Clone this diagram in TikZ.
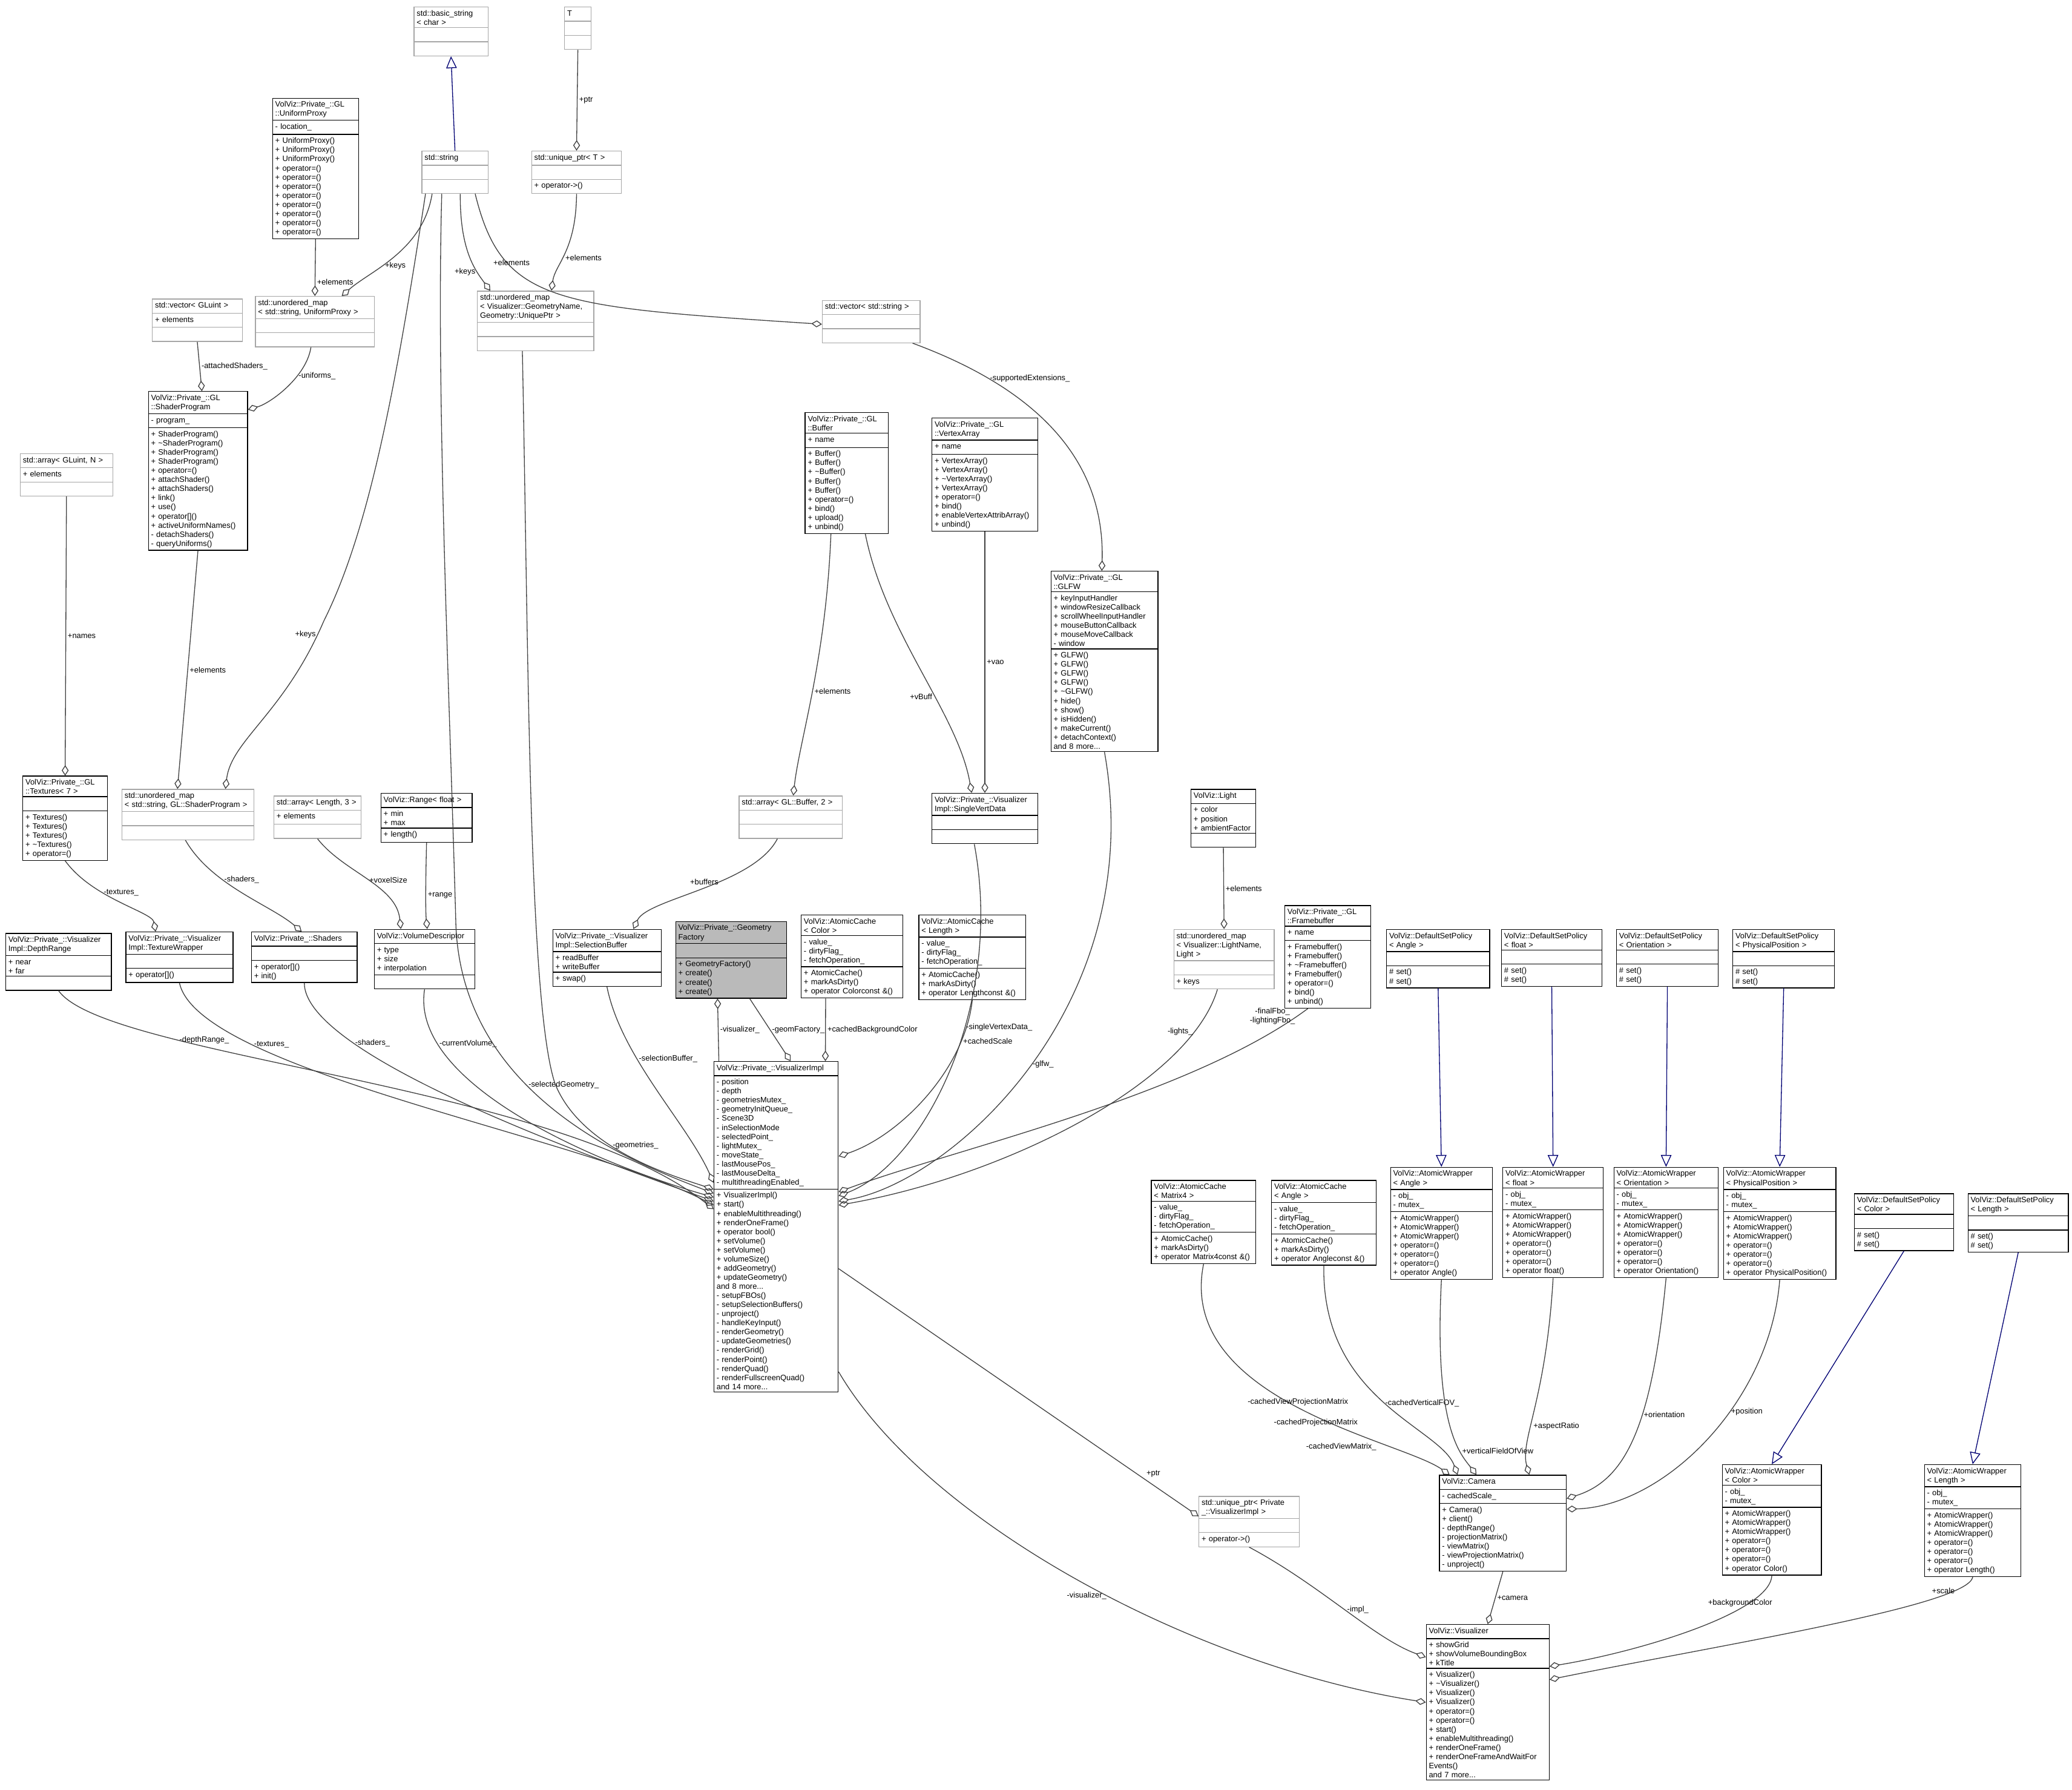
\documentclass[tikz,border=0pt]{standalone}
\usepackage{fontspec}
\newfontfamily\dfont{Liberation Sans}
\usetikzlibrary{shapes.multipart,arrows.meta,calc}
\tikzset{
 cb/.style={rectangle split, rectangle split parts=3, draw=black, anchor=north west,
  font=\dfont\fontsize{2.95}{3.45}\selectfont, rectangle split part align={center,left,left},
  inner xsep=1pt, inner ysep=0.8pt, line width=0.3pt},
 gb/.style={cb, draw=black!35},
 fb/.style={cb, fill=black!27},
 comp/.style={draw=black!75, line width=0.3pt, -{Diamond[open,length=4pt,width=2.6pt]}},
 inh/.style={draw=blue!45!black, line width=0.3pt, -{Triangle[open,length=4.5pt,width=4pt]}},
 lbl/.style={font=\dfont\fontsize{2.95}{3.45}\selectfont, inner sep=0.6pt, align=center, text=black}
}
\newcommand\cls[8]{\node[#1,text width=#5pt] (#2) at (#3,#4) {\strut#6\nodepart{two}\strut#7\nodepart{three}\strut#8};}
\begin{document}
\begin{tikzpicture}[x=0.5pt,y=-0.5pt]
\useasboundingbox (0,0) rectangle (1568,1354.5);
\fill[white] (0,0) rectangle (1568,1354.5);
% boxes
\cls{gb}{bs}{313}{5}{26}{std::basic\_string\\< char >}{}{}
\cls{gb}{T}{427}{5}{8}{T}{}{}
\cls{cb}{up}{206}{74}{30.5}{VolViz::Private\_::GL\\::UniformProxy}{- location\_}{+ UniformProxy()\\+ UniformProxy()\\+ UniformProxy()\\+ operator=()\\+ operator=()\\+ operator=()\\+ operator=()\\+ operator=()\\+ operator=()\\+ operator=()\\+ operator=()}
\cls{gb}{str}{319}{114}{23}{std::string}{}{}
\cls{gb}{uT}{402}{114}{32}{std::unique\_ptr< T >}{}{+ operator->()}
\cls{gb}{vg}{115}{226}{32}{std::vector< GLuint >}{+ elements}{}
\cls{gb}{ump}{193}{224}{43}{std::unordered\_map\\< std::string, UniformProxy >}{}{}
\cls{gb}{umg}{361}{220}{42}{std::unordered\_map\\< Visualizer::GeometryName,\\ Geometry::UniquePtr >}{}{}
\cls{gb}{vs}{622}{227}{35}{std::vector< std::string >}{}{}
\cls{cb}{sp}{112}{296}{35.5}{VolViz::Private\_::GL\\::ShaderProgram}{- program\_}{+ ShaderProgram()\\+ \textasciitilde ShaderProgram()\\+ ShaderProgram()\\+ ShaderProgram()\\+ operator=()\\+ attachShader()\\+ attachShaders()\\+ link()\\+ use()\\+ operator[]()\\+ activeUniformNames()\\- detachShaders()\\- queryUniforms()}
\cls{gb}{arr}{15}{343}{33}{std::array< GLuint, N >}{+ elements}{}
\cls{cb}{buf}{609}{312}{29.5}{VolViz::Private\_::GL\\::Buffer}{+ name}{+ Buffer()\\+ Buffer()\\+ \textasciitilde Buffer()\\+ Buffer()\\+ Buffer()\\+ operator=()\\+ bind()\\+ upload()\\+ unbind()}
\cls{cb}{va}{705}{316}{38}{VolViz::Private\_::GL\\::VertexArray}{+ name}{+ VertexArray()\\+ VertexArray()\\+ \textasciitilde VertexArray()\\+ VertexArray()\\+ operator=()\\+ bind()\\+ enableVertexAttribArray()\\+ unbind()}
\cls{cb}{glfw}{795}{432}{38.5}{VolViz::Private\_::GL\\::GLFW}{+ keyInputHandler\\+ windowResizeCallback\\+ scrollWheelInputHandler\\+ mouseButtonCallback\\+ mouseMoveCallback\\- window}{+ GLFW()\\+ GLFW()\\+ GLFW()\\+ GLFW()\\+ \textasciitilde GLFW()\\+ hide()\\+ show()\\+ isHidden()\\+ makeCurrent()\\+ detachContext()\\and 8 more...}
\cls{cb}{tex}{17}{587}{30}{VolViz::Private\_::GL\\::Textures< 7 >}{}{+ Textures()\\+ Textures()\\+ Textures()\\+ \textasciitilde Textures()\\+ operator=()}
\cls{gb}{umsp}{92}{597}{48}{std::unordered\_map\\< std::string, GL::ShaderProgram >}{}{}
\cls{gb}{arrL}{207}{602}{31}{std::array< Length, 3 >}{+ elements}{}
\cls{cb}{rng}{288}{600}{32.5}{VolViz::Range< float >}{+ min\\+ max}{+ length()}
\cls{gb}{arrb}{559}{602}{37}{std::array< GL::Buffer, 2 >}{}{}
\cls{cb}{svd}{705}{600}{38}{VolViz::Private\_::Visualizer\\Impl::SingleVertData}{}{}
\cls{cb}{light}{901}{597}{22.5}{VolViz::Light}{+ color\\+ position\\+ ambientFactor}{}
\cls{cb}{dr}{4}{706}{38}{VolViz::Private\_::Visualizer\\Impl::DepthRange}{+ near\\+ far}{}
\cls{cb}{tw}{95}{705}{38.5}{VolViz::Private\_::Visualizer\\Impl::TextureWrapper}{}{+ operator[]()}
\cls{cb}{sh}{190}{705}{38}{VolViz::Private\_::Shaders}{}{+ operator[]()\\+ init()}
\cls{cb}{vd}{283}{703}{36}{VolViz::VolumeDescriptor}{+ type\\+ size\\+ interpolation}{}
\cls{cb}{sb}{418}{703}{39}{VolViz::Private\_::Visualizer\\Impl::SelectionBuffer}{+ readBuffer\\+ writeBuffer}{+ swap()}
\cls{fb}{gf}{511}{697}{40}{VolViz::Private\_::Geometry\\Factory}{}{+ GeometryFactory()\\+ create()\\+ create()\\+ create()}
\cls{cb}{acc}{606}{692}{36.5}{VolViz::AtomicCache\\< Color >}{- value\_\\- dirtyFlag\_\\- fetchOperation\_}{+ AtomicCache()\\+ markAsDirty()\\+ operator Colorconst \&()}
\cls{cb}{acl}{695}{692}{38.5}{VolViz::AtomicCache\\< Length >}{- value\_\\- dirtyFlag\_\\- fetchOperation\_}{+ AtomicCache()\\+ markAsDirty()\\+ operator Lengthconst \&()}
\cls{gb}{uml}{888}{703}{36}{std::unordered\_map\\< Visualizer::LightName,\\ Light >}{}{+ keys}
\cls{cb}{fbo}{972}{685}{30.5}{VolViz::Private\_::GL\\::Framebuffer}{+ name}{+ Framebuffer()\\+ Framebuffer()\\+ \textasciitilde Framebuffer()\\+ Framebuffer()\\+ operator=()\\+ bind()\\+ unbind()}
\cls{cb}{dA}{1049}{703}{37}{VolViz::DefaultSetPolicy\\< Angle >}{}{\# set()\\\# set()}
\cls{cb}{dF}{1136}{703}{36}{VolViz::DefaultSetPolicy\\< float >}{}{\# set()\\\# set()}
\cls{cb}{dO}{1223}{703}{36.5}{VolViz::DefaultSetPolicy\\< Orientation >}{}{\# set()\\\# set()}
\cls{cb}{dP}{1311}{703}{36.5}{VolViz::DefaultSetPolicy\\< PhysicalPosition >}{}{\# set()\\\# set()}
\cls{cb}{vi}{540}{803}{45}{VolViz::Private\_::VisualizerImpl}{- position\\- depth\\- geometriesMutex\_\\- geometryInitQueue\_\\- Scene3D\\- inSelectionMode\\- selectedPoint\_\\- lightMutex\_\\- moveState\_\\- lastMousePos\_\\- lastMouseDelta\_\\- multithreadingEnabled\_}{+ VisualizerImpl()\\+ start()\\+ enableMultithreading()\\+ renderOneFrame()\\+ operator bool()\\+ setVolume()\\+ setVolume()\\+ volumeSize()\\+ addGeometry()\\+ updateGeometry()\\and 8 more...\\- setupFBOs()\\- setupSelectionBuffers()\\- unproject()\\- handleKeyInput()\\- renderGeometry()\\- updateGeometries()\\- renderGrid()\\- renderPoint()\\- renderQuad()\\- renderFullscreenQuad()\\and 14 more...}
\cls{cb}{acm}{871}{893}{37.5}{VolViz::AtomicCache\\< Matrix4 >}{- value\_\\- dirtyFlag\_\\- fetchOperation\_}{+ AtomicCache()\\+ markAsDirty()\\+ operator Matrix4const \&()}
\cls{cb}{aca}{962}{893}{37.5}{VolViz::AtomicCache\\< Angle >}{- value\_\\- dirtyFlag\_\\- fetchOperation\_}{+ AtomicCache()\\+ markAsDirty()\\+ operator Angleconst \&()}
\cls{cb}{wA}{1052}{883}{36.5}{VolViz::AtomicWrapper\\< Angle >}{- obj\_\\- mutex\_}{+ AtomicWrapper()\\+ AtomicWrapper()\\+ AtomicWrapper()\\+ operator=()\\+ operator=()\\+ operator=()\\+ operator Angle()}
\cls{cb}{wF}{1137}{883}{36}{VolViz::AtomicWrapper\\< float >}{- obj\_\\- mutex\_}{+ AtomicWrapper()\\+ AtomicWrapper()\\+ AtomicWrapper()\\+ operator=()\\+ operator=()\\+ operator=()\\+ operator float()}
\cls{cb}{wO}{1221}{883}{37.5}{VolViz::AtomicWrapper\\< Orientation >}{- obj\_\\- mutex\_}{+ AtomicWrapper()\\+ AtomicWrapper()\\+ AtomicWrapper()\\+ operator=()\\+ operator=()\\+ operator=()\\+ operator Orientation()}
\cls{cb}{wP}{1304}{883}{40.5}{VolViz::AtomicWrapper\\< PhysicalPosition >}{- obj\_\\- mutex\_}{+ AtomicWrapper()\\+ AtomicWrapper()\\+ AtomicWrapper()\\+ operator=()\\+ operator=()\\+ operator=()\\+ operator PhysicalPosition()}
\cls{cb}{dC}{1403}{903}{35.5}{VolViz::DefaultSetPolicy\\< Color >}{}{\# set()\\\# set()}
\cls{cb}{dL}{1489}{903}{36}{VolViz::DefaultSetPolicy\\< Length >}{}{\# set()\\\# set()}
\cls{cb}{cam}{1089}{1116}{46}{VolViz::Camera}{- cachedScale\_}{+ Camera()\\+ client()\\- depthRange()\\- projectionMatrix()\\- viewMatrix()\\- viewProjectionMatrix()\\- unproject()}
\cls{gb}{uVI}{907}{1132}{36}{std::unique\_ptr< Private\\\_::VisualizerImpl >}{}{+ operator->()}
\cls{cb}{wC}{1303}{1108}{35.5}{VolViz::AtomicWrapper\\< Color >}{- obj\_\\- mutex\_}{+ AtomicWrapper()\\+ AtomicWrapper()\\+ AtomicWrapper()\\+ operator=()\\+ operator=()\\+ operator=()\\+ operator Color()}
\cls{cb}{wL}{1456}{1108}{34.5}{VolViz::AtomicWrapper\\< Length >}{- obj\_\\- mutex\_}{+ AtomicWrapper()\\+ AtomicWrapper()\\+ AtomicWrapper()\\+ operator=()\\+ operator=()\\+ operator=()\\+ operator Length()}
\cls{cb}{vis}{1079}{1229}{44.5}{VolViz::Visualizer}{+ showGrid\\+ showVolumeBoundingBox\\+ kTitle}{+ Visualizer()\\+ \textasciitilde Visualizer()\\+ Visualizer()\\+ Visualizer()\\+ operator=()\\+ operator=()\\+ start()\\+ enableMultithreading()\\+ renderOneFrame()\\+ renderOneFrameAndWaitFor\\Events()\\and 7 more...}
% inheritance
\draw[inh] (str.north) -- (bs.south);
\foreach \a/\b in {dA/wA,dF/wF,dO/wO,dP/wP,dC/wC,dL/wL}{\draw[inh] (\a.south) -- (\b.north);}
% compositions
\draw[comp] (T.south) -- node[lbl,right]{+ptr} (uT.north);
\draw[comp] (up.south) -- node[lbl,right,pos=0.75]{+elements} (ump.north);
\draw[comp] ($(str.south west)+(8,0)$) .. controls (320,190) and (280,205) .. ($(ump.north east)+(-25,0)$) node[lbl,pos=0.6,right]{+keys};
\draw[comp] ($(str.south)+(4,0)$) .. controls (348,190) and (360,205) .. ($(umg.north west)+(10,0)$) node[lbl,pos=0.7,left]{+keys};
\draw[comp] ($(uT.south)+(0,0)$) .. controls (436,190) and (420,200) .. ($(umg.north)+(12,0)$) node[lbl,pos=0.55,right]{+elements};
\draw[comp] ($(str.south east)+(-10,0)$) .. controls (380,230) and (420,232) .. ($(vs.west)+(0,2)$) node[lbl,pos=0.3,above]{+elements};
\draw[comp] (vg.south) -- node[lbl,right]{-attachedShaders\_} ($(sp.north)+(3,0)$);
\draw[comp] ($(ump.south)+(-3,0)$) .. controls (232,285) and (205,305) .. ($(sp.north east)+(0,14)$) node[lbl,pos=0.35,right]{-uniforms\_};
\draw[comp] ($(str.south west)+(3,0)$) .. controls (300,290) and (280,400) .. (245,470) .. controls (215,540) and (175,560) .. ($(umsp.north east)+(-22,0)$) node[lbl,pos=0.05,left]{+keys};
\draw[comp] (sp.south) -- node[lbl,right]{+elements} ($(umsp.north)+(-8,0)$);
\draw[comp] (arr.south) -- node[lbl,right]{+names} (tex.north);
\draw[comp] ($(vs.south east)+(-6,0)$) .. controls (800,300) and (836,360) .. ($(glfw.north)+(-2,0)$) node[lbl,pos=0.2,right]{-supportedExtensions\_};
\draw[comp] ($(buf.south)+(-12,0)$) .. controls (625,500) and (605,560) .. ($(arrb.north)+(2,0)$) node[lbl,pos=0.5,right]{+elements};
\draw[comp] ($(buf.south)+(14,0)$) .. controls (670,480) and (725,540) .. ($(svd.north)+(-10,0)$) node[lbl,pos=0.6,left]{+vBuff};
\draw[comp] (va.south) -- node[lbl,right]{+vao} (svd.north);
\draw[comp] (tex.south) .. controls (70,680) and (115,690) .. ($(tw.north)+(-18,0)$) node[lbl,pos=0.35,right]{-textures\_};
\draw[comp] ($(umsp.south)+(-2,0)$) .. controls (160,670) and (205,685) .. ($(sh.north)+(-2,0)$) node[lbl,pos=0.35,right]{-shaders\_};
\draw[comp] (arrL.south) .. controls (260,660) and (300,670) .. ($(vd.north)+(-18,0)$) node[lbl,pos=0.5,right]{+voxelSize};
\draw[comp] (rng.south) .. controls (322,670) and (322,690) .. ($(vd.north)+(2,0)$) node[lbl,pos=0.5,right]{+range};
\draw[comp] ($(arrb.south)+(-10,0)$) .. controls (570,670) and (490,680) .. ($(sb.north)+(20,0)$) node[lbl,pos=0.4,left]{+buffers};
\draw[comp] (light.south) -- node[lbl,right]{+elements} (uml.north);
% into VisualizerImpl
\draw[comp] (dr.south) .. controls (80,800) and (420,820) .. ($(vi.north west)+(0,112)$) node[lbl,pos=0.28,right]{-depthRange\_};
\draw[comp] (tw.south) .. controls (150,810) and (440,860) .. ($(vi.north west)+(0,109)$) node[lbl,pos=0.25,right]{-textures\_};
\draw[comp] (sh.south) .. controls (230,800) and (460,880) .. ($(vi.north west)+(0,106)$) node[lbl,pos=0.25,right]{-shaders\_};
\draw[comp] (vd.south) .. controls (310,820) and (450,880) .. ($(vi.north west)+(0,103)$) node[lbl,pos=0.2,right]{-currentVolume\_};
\draw[comp] ($(str.south)+(-10,0)$) .. controls (330,300) and (340,520) .. (345,700) .. controls (350,830) and (480,880) .. ($(vi.north west)+(0,100)$) node[lbl,pos=0.4,right]{-selectedGeometry\_};
\draw[comp] ($(umg.south)+(-10,0)$) .. controls (400,500) and (400,760) .. (420,820) .. controls (440,870) and (510,890) .. ($(vi.north west)+(0,97)$) node[lbl,pos=0.4,right]{-geometries\_};
\draw[comp] (sb.south) .. controls (470,800) and (520,850) .. ($(vi.north west)+(0,92)$) node[lbl,pos=0.35,right]{-selectionBuffer\_};
\draw[comp] ($(gf.south)+(14,0)$) -- node[lbl,right]{-geomFactory\_} ($(vi.north)+(11,0)$);
\draw[comp] ($(vi.north west)+(4,0)$) -- node[lbl,right]{-visualizer\_} ($(gf.south west)+(32,0)$);
\draw[comp] ($(acc.south)+(-20,0)$) -- node[lbl,right]{+cachedBackgroundColor} ($(vi.north east)+(-10,0)$);
\draw[comp] (acl.south) .. controls (730,810) and (680,860) .. ($(vi.north east)+(0,72)$) node[lbl,pos=0.2,right]{+cachedScale};
\draw[comp] ($(svd.south)+(-8,0)$) .. controls (760,760) and (700,880) .. ($(vi.north east)+(0,102)$) node[lbl,pos=0.4,right]{-singleVertexData\_};
\draw[comp] (glfw.south) .. controls (870,760) and (720,895) .. ($(vi.north east)+(0,106)$) node[lbl,pos=0.5,right]{-glfw\_};
\draw[comp] ($(uml.south)+(-5,0)$) .. controls (900,820) and (760,890) .. ($(vi.north east)+(0,109)$) node[lbl,pos=0.15,left]{-lights\_};
\draw[comp] ($(fbo.south)+(-15,0)$) .. controls (900,830) and (720,870) .. ($(vi.north east)+(0,99)$) node[lbl,pos=0.03,left]{-finalFbo\_\\-lightingFbo\_};
% out of VisualizerImpl
\draw[comp] ($(vi.north east)+(0,157)$) -- node[lbl,pos=0.85,above right]{+ptr} ($(uVI.west)+(0,-4)$);
\draw[comp] ($(vi.north east)+(0,235)$) .. controls (700,1150) and (900,1260) .. ($(vis.west)+(0,0)$) node[lbl,pos=0.55,left]{-visualizer\_};
% camera
\draw[comp] (acm.south) .. controls (890,1060) and (1060,1090) .. ($(cam.north west)+(8,0)$) node[lbl,pos=0.5,above]{-cachedViewProjectionMatrix} node[lbl,pos=0.55,below]{-cachedProjectionMatrix} node[lbl,pos=0.62,below=5pt]{-cachedViewMatrix\_};
\draw[comp] (aca.south) .. controls (1000,1060) and (1090,1080) .. ($(cam.north west)+(14,0)$) node[lbl,pos=0.5,right]{-cachedVerticalFOV\_};
\draw[comp] (wA.south) .. controls (1085,1080) and (1105,1100) .. ($(cam.north)+(-20,0)$) node[lbl,pos=0.7,right]{+verticalFieldOfView};
\draw[comp] (wF.south) .. controls (1170,1060) and (1150,1090) .. ($(cam.north)+(20,0)$) node[lbl,pos=0.6,right]{+aspectRatio};
\draw[comp] (wO.south) .. controls (1250,1080) and (1230,1120) .. ($(cam.north east)+(0,18)$) node[lbl,pos=0.4,right]{+orientation};
\draw[comp] (wP.south) .. controls (1340,1060) and (1260,1140) .. ($(cam.north east)+(0,26)$) node[lbl,pos=0.4,right]{+position};
\draw[comp] (cam.south) -- node[lbl,right]{+camera} (vis.north);
\draw[comp] (uVI.south) .. controls (1000,1200) and (1040,1240) .. ($(vis.north west)+(0,25)$) node[lbl,pos=0.5,right]{-impl\_};
\draw[comp] (wC.south) .. controls (1340,1220) and (1240,1250) .. ($(vis.north east)+(0,32)$) node[lbl,pos=0.3,above]{+backgroundColor};
\draw[comp] (wL.south) .. controls (1490,1215) and (1300,1245) .. ($(vis.north east)+(0,42)$) node[lbl,pos=0.2,above]{+scale};
\end{tikzpicture}
\end{document}
